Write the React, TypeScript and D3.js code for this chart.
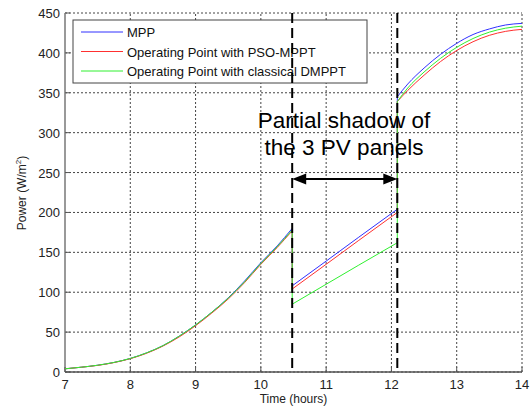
import * as d3 from "d3";

// before the partial shadow
const timeA = [7, 7.25, 7.5, 7.75, 8, 8.25, 8.5, 8.75, 9, 9.25, 9.5, 9.75, 10, 10.25, 10.48];
const mppA = [4, 6, 8.5, 12, 17, 24, 33, 45, 59, 75, 93, 114, 137, 158, 180];
const psoA = [4, 6, 8.3, 11.8, 16.7, 23.5, 32.5, 44, 58, 74, 91.5, 112, 135, 156, 177];
const dmpptA = [4, 6, 8.5, 12, 17, 24, 33, 45, 59, 75, 92.5, 113, 136, 157, 178];

// during the partial shadow
const timeB = [10.48, 11, 11.5, 12.09];
const mppB = [108, 139, 169, 204];
const psoB = [104, 135, 165, 200];
const dmpptB = [85, 110, 134, 162];

// after the shadow
const timeC = [12.09, 12.25, 12.5, 12.75, 13, 13.25, 13.5, 13.75, 14];
const mppC = [345, 361, 381, 398, 412, 423, 430, 435, 437];
const psoC = [339, 353, 372, 389, 403, 414, 422, 427, 429.5];
const dmpptC = [339, 356, 376, 393, 407, 418, 426, 431, 433.5];

const xTicks = [7, 8, 9, 10, 11, 12, 13, 14];
const yTicks = [0, 50, 100, 150, 200, 250, 300, 350, 400, 450];
const shadowStart = 10.48;
const shadowEnd = 12.09;
const arrowLevel = 242;

const seriesNames = ["MPP", "Operating Point with PSO-MPPT", "Operating Point with classical DMPPT"];
const seriesColors = ["#3030ff", "#ff3030", "#30f030"];

const W = 532;
const H = 410;
const margin = { top: 13, right: 10, bottom: 38, left: 65 };

const x = d3.scaleLinear().domain([7, 14]).range([margin.left, W - margin.right]);
const y = d3.scaleLinear().domain([0, 450]).range([H - margin.bottom, margin.top]);

const line = d3
  .line<[number, number]>()
  .x((d) => x(d[0]))
  .y((d) => y(d[1]))
  .curve(d3.curveMonotoneX);

function seriesPath(parts: [number[], number[]][]) {
  return parts
    .map(([t, v], i) => {
      const d = line(t.map((tt, j) => [tt, v[j]] as [number, number])) || "";
      return i === 0 ? d : "L" + d.slice(1);
    })
    .join("");
}

const paths = [
  seriesPath([[timeA, mppA], [timeB, mppB], [timeC, mppC]]),
  seriesPath([[timeA, psoA], [timeB, psoB], [timeC, psoC]]),
  seriesPath([[timeA, dmpptA], [timeB, dmpptB], [timeC, dmpptC]]),
];

const font = "Arial, 'Liberation Sans', sans-serif";

export default function App() {
  const x0 = margin.left;
  const x1 = W - margin.right;
  const y0 = H - margin.bottom;
  const y1 = margin.top;
  const ay = y(arrowLevel);
  const ax0 = x(shadowStart);
  const ax1 = x(shadowEnd);
  return (
    <svg
      width={W}
      height={H}
      style={{ position: "absolute", left: 0, top: 0, background: "#fff" }}
      fontFamily={font}
    >
      {/* grid */}
      {xTicks.map((t) => (
        <line key={"gx" + t} x1={x(t)} x2={x(t)} y1={y0} y2={y1} stroke="#444" strokeDasharray="2,2" />
      ))}
      {yTicks.map((t) => (
        <line key={"gy" + t} x1={x0} x2={x1} y1={y(t)} y2={y(t)} stroke="#444" strokeDasharray="2,2" />
      ))}
      {/* axes */}
      <line x1={x0} x2={x0} y1={y1} y2={y0} stroke="#999" strokeWidth={2} />
      <line x1={x0} x2={x1} y1={y0} y2={y0} stroke="#555" strokeWidth={1.5} />
      {yTicks.map((t) => (
        <g key={"ty" + t}>
          <line x1={x0} x2={x0 + 5} y1={y(t)} y2={y(t)} stroke="#555" />
          <text x={x0 - 5} y={y(t) + 5} textAnchor="end" fontSize={13} fill="#222">
            {t}
          </text>
        </g>
      ))}
      {xTicks.map((t) => (
        <g key={"tx" + t}>
          <line x1={x(t)} x2={x(t)} y1={y0} y2={y0 - 5} stroke="#555" />
          <text x={x(t)} y={y0 + 17} textAnchor="middle" fontSize={13} fill="#222">
            {t}
          </text>
        </g>
      ))}
      <text x={(x0 + x1) / 2} y={403} textAnchor="middle" fontSize={12} fill="#222">
        Time (hours)
      </text>
      <text
        transform={`translate(26,${193}) rotate(-90)`}
        textAnchor="middle"
        fontSize={12}
        fill="#222"
      >
        Power (W/m<tspan dy={-5} fontSize={8}>2</tspan>
        <tspan dy={5}>)</tspan>
      </text>
      {/* series */}
      {paths.map((d, i) => (
        <path key={"s" + i} d={d} fill="none" stroke={seriesColors[i]} strokeWidth={1} />
      ))}
      {/* legend */}
      <rect x={73} y={20} width={294} height={63} fill="#fff" stroke="#444" />
      {seriesNames.map((n, i) => (
        <g key={"lg" + i}>
          <line x1={81} x2={123} y1={32 + i * 19.5} y2={32 + i * 19.5} stroke={seriesColors[i]} />
          <text x={127} y={37 + i * 19.5} fontSize={13} fill="#111">
            {n}
          </text>
        </g>
      ))}
      {/* shadow markers */}
      {[shadowStart, shadowEnd].map((t) => (
        <line key={"sh" + t} x1={x(t)} x2={x(t)} y1={y1} y2={y0} stroke="#000" strokeWidth={2} strokeDasharray="10,5" />
      ))}
      <line x1={ax0 + 12} x2={ax1 - 12} y1={ay} y2={ay} stroke="#000" strokeWidth={2} />
      <path d={`M${ax0},${ay}L${ax0 + 14},${ay - 5.5}L${ax0 + 14},${ay + 5.5}Z`} fill="#000" />
      <path d={`M${ax1},${ay}L${ax1 - 14},${ay - 5.5}L${ax1 - 14},${ay + 5.5}Z`} fill="#000" />
      <text x={344} y={128} textAnchor="middle" fontSize={22.5} fill="#000">
        Partial shadow of
      </text>
      <text x={344} y={155} textAnchor="middle" fontSize={22.5} fill="#000">
        the 3 PV panels
      </text>
    </svg>
  );
}
